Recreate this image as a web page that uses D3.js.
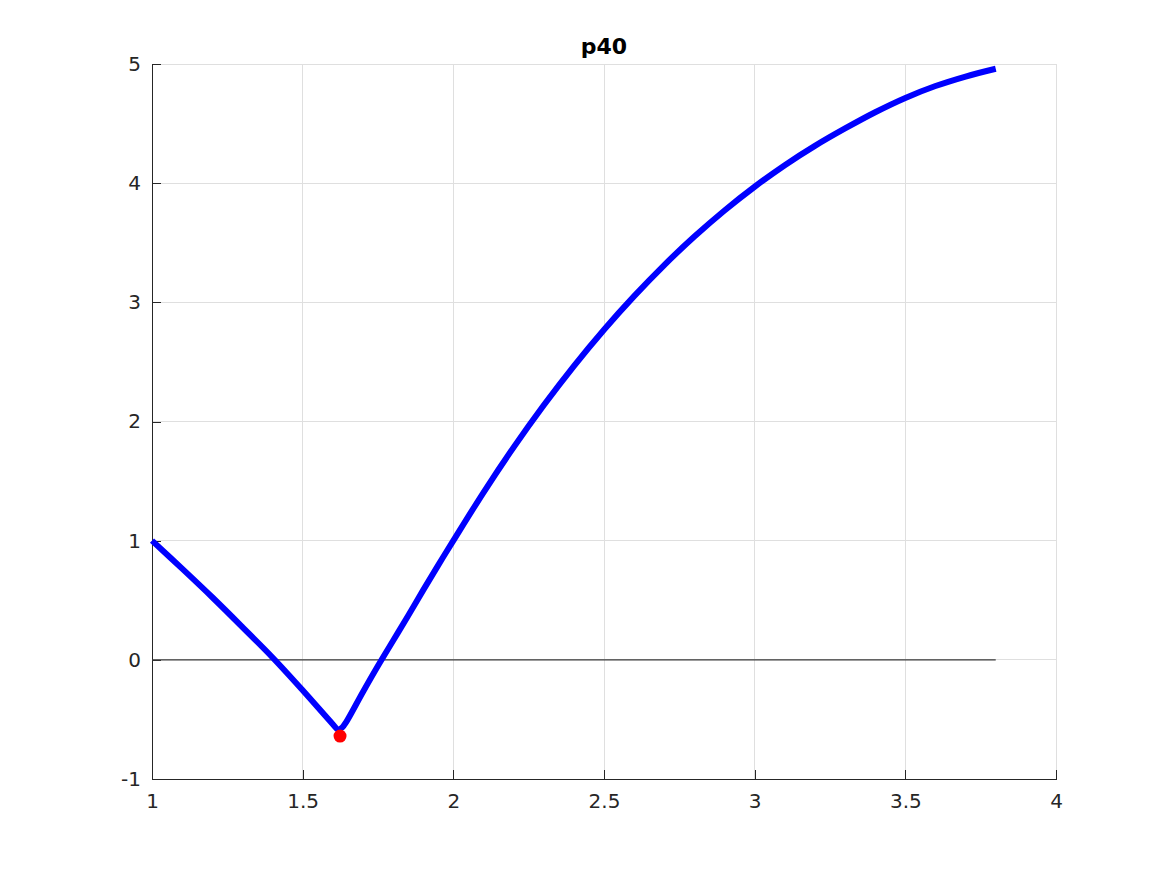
<!DOCTYPE html>
<html>
<head>
<meta charset="utf-8">
<script src="https://cdn.jsdelivr.net/npm/d3@7"></script>
<style>
  body { margin: 0; background: #fff; }
  svg { display: block; font-family: "DejaVu Sans", sans-serif; }
</style>
</head>
<body>
<svg id="chart" width="1167" height="875"></svg>
<script>
const title = "p40";
const xTicks = [1, 1.5, 2, 2.5, 3, 3.5, 4];
const yTicks = [-1, 0, 1, 2, 3, 4, 5];
const xTickLabels = ["1", "1.5", "2", "2.5", "3", "3.5", "4"];
const yTickLabels = ["-1", "0", "1", "2", "3", "4", "5"];

// curve
const curveX = [1.0, 1.1, 1.2, 1.3, 1.4, 1.5, 1.6, 1.617, 1.632, 1.645, 1.7, 1.75, 1.8, 1.85, 1.9, 1.95, 2.0,
                2.1, 2.2, 2.3, 2.4, 2.5, 2.6, 2.7, 2.8, 2.9, 3.0, 3.1, 3.2, 3.3, 3.4, 3.5, 3.6, 3.7, 3.8];
const curveY = [1.0, 0.765, 0.525, 0.275, 0.02, -0.255, -0.54, -0.585, -0.565, -0.52, -0.27, -0.05, 0.16, 0.37, 0.585, 0.795, 1.0,
                1.404, 1.783, 2.136, 2.465, 2.77, 3.052, 3.313, 3.552, 3.771, 3.97, 4.151, 4.313, 4.459, 4.595, 4.715, 4.815, 4.895, 4.96];
// zero reference line
const zeroX = [1, 3.8];
const zeroY = [0, 0];
// marked minimum
const markX = [1.624];
const markY = [-0.64];

(function () {
const svg = d3.select("#chart");
const mL = 152, mR = 1056, mT = 64, mB = 779;
const x = d3.scaleLinear().domain([1, 4]).range([mL, mR]);
const y = d3.scaleLinear().domain([-1, 5]).range([mB, mT]);

// grid
const grid = svg.append("g");
grid.selectAll(".gx").data(xTicks).enter().append("line")
  .attr("x1", d => x(d)).attr("x2", d => x(d))
  .attr("y1", mT).attr("y2", mB)
  .attr("stroke", "#dfdfdf").attr("stroke-width", 1).attr("shape-rendering", "crispEdges");
grid.selectAll(".gy").data(yTicks).enter().append("line")
  .attr("x1", mL).attr("x2", mR)
  .attr("y1", d => y(d)).attr("y2", d => y(d))
  .attr("stroke", "#dfdfdf").attr("stroke-width", 1).attr("shape-rendering", "crispEdges");

// axes
const xAxis = d3.axisBottom(x).tickValues(xTicks)
  .tickFormat((d, i) => xTickLabels[i]).tickSizeInner(-9).tickSizeOuter(0).tickPadding(15);
const yAxis = d3.axisLeft(y).tickValues(yTicks)
  .tickFormat((d, i) => yTickLabels[i]).tickSizeInner(-9).tickSizeOuter(0).tickPadding(11);

const gx = svg.append("g").attr("transform", `translate(0,${mB})`).call(xAxis);
const gy = svg.append("g").attr("transform", `translate(${mL},0)`).call(yAxis);
[gx, gy].forEach(g => {
  g.attr("font-size", 20).attr("font-family", "'DejaVu Sans', sans-serif");
  g.select(".domain").attr("stroke", "#262626").attr("stroke-width", 1).attr("shape-rendering", "crispEdges");
  g.selectAll(".tick line").attr("stroke", "#262626").attr("shape-rendering", "crispEdges");
  g.selectAll(".tick text").attr("fill", "#262626").style("font-size", "20px");
});
gx.selectAll(".tick text").attr("dy", "0.71em");

// zero line
svg.append("path")
  .datum(zeroX.map((d, i) => [d, zeroY[i]]))
  .attr("d", d3.line().x(d => x(d[0])).y(d => y(d[1])))
  .attr("stroke", "#3a3a3a").attr("stroke-width", 1.2).attr("fill", "none");

// main curve
svg.append("path")
  .datum(curveX.map((d, i) => [d, curveY[i]]))
  .attr("d", d3.line().x(d => x(d[0])).y(d => y(d[1])).curve(d3.curveCatmullRom.alpha(0.5)))
  .attr("stroke", "#0000ff").attr("stroke-width", 6).attr("fill", "none")
  .attr("stroke-linejoin", "round");

// marker
svg.selectAll(".mk").data(markX.map((d, i) => [d, markY[i]])).enter().append("circle")
  .attr("cx", d => x(d[0])).attr("cy", d => y(d[1])).attr("r", 6.5)
  .attr("fill", "#ff0000");

// title
svg.append("text")
  .attr("x", (mL + mR) / 2).attr("y", 54)
  .attr("text-anchor", "middle")
  .style("font-size", "22px").style("font-weight", "bold")
  .attr("fill", "#000")
  .text(title);
})();
</script>
</body>
</html>
